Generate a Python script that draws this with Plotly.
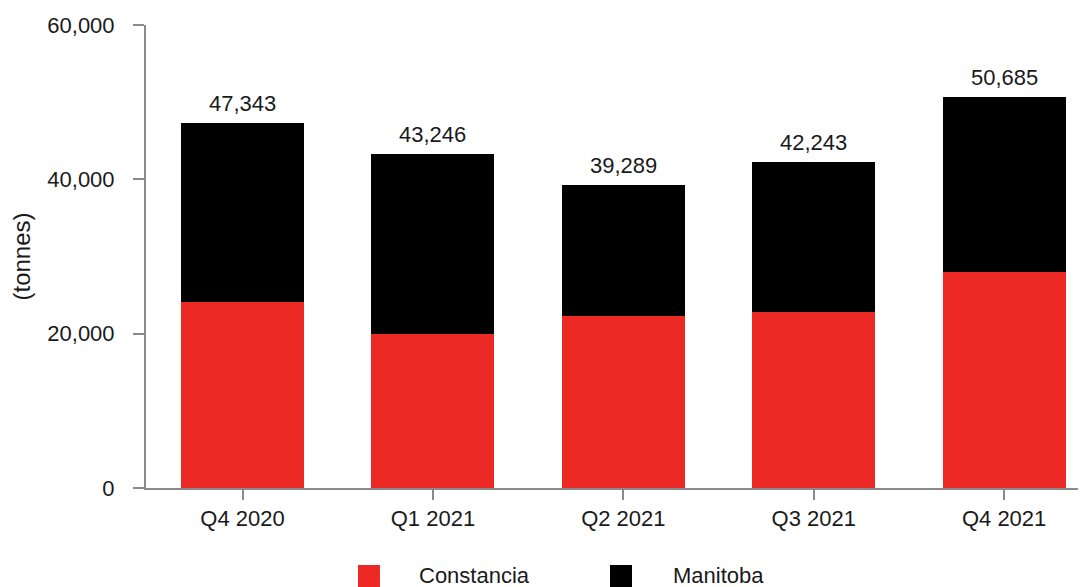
import plotly.graph_objects as go

quarters = ["Q4 2020", "Q1 2021", "Q2 2021", "Q3 2021", "Q4 2021"]
constancia = [24050, 19900, 22250, 22750, 27950]
manitoba = [23293, 23346, 17039, 19493, 22735]
totals = [47343, 43246, 39289, 42243, 50685]
y_ticks = [0, 20000, 40000, 60000]
y_tick_labels = ["0", "20,000", "40,000", "60,000"]

RED = "#ED2926"
BLACK = "#000000"
GREY = "#8a8a8a"
TXT = "#1a1a1a"
FONT = "Liberation Sans, Arial, sans-serif"
FS = 22

fig = go.Figure()
fig.add_trace(go.Bar(x=quarters, y=constancia, name="Constancia",
                     marker=dict(color=RED, line=dict(width=0)), width=0.646,
                     showlegend=False))
fig.add_trace(go.Bar(x=quarters, y=manitoba, name="Manitoba",
                     marker=dict(color=BLACK, line=dict(width=0)), width=0.646,
                     showlegend=False))

for q, t in zip(quarters, totals):
    fig.add_annotation(x=q, y=t, text=f"{t:,}", showarrow=False,
                       yanchor="bottom", yshift=5,
                       font=dict(family=FONT, size=FS, color=TXT))

# manual legend (plot area: x 146..1086 px, y 25..488 px in the window)
legend_items = [("Constancia", RED, 0.2255, 0.2489, 0.2885),
                ("Manitoba", BLACK, 0.4936, 0.5170, 0.5580)]
for name, col, x0, x1, xt in legend_items:
    fig.add_shape(type="rect", xref="paper", yref="paper", x0=x0, x1=x1,
                  y0=-0.1663, y1=-0.2300, fillcolor=col, line=dict(width=0))
    fig.add_annotation(xref="paper", yref="paper", x=xt, y=-0.188,
                       xanchor="left", yanchor="middle", showarrow=False,
                       text=name, font=dict(family=FONT, size=FS, color=TXT))

# the page body has an 8px margin, so the figure is shrunk by 8px each way
fig.update_layout(
    width=1078, height=579,
    margin=dict(l=138, r=0, t=17, b=99),
    plot_bgcolor="white", paper_bgcolor="white",
    barmode="stack",
    font=dict(family=FONT, size=FS, color=TXT),
    xaxis=dict(type="category", range=[-0.507, 4.43],
               showline=True, linecolor=GREY, linewidth=2,
               ticks="outside", ticklen=10, tickwidth=2, tickcolor=GREY,
               ticklabelstandoff=0,
               showgrid=False, zeroline=False,
               tickfont=dict(family=FONT, size=FS, color=TXT)),
    yaxis=dict(range=[0, 60000], tickvals=y_ticks, ticktext=y_tick_labels,
               showline=True, linecolor=GREY, linewidth=2,
               ticks="outside", ticklen=11, tickwidth=2, tickcolor=GREY,
               ticklabelstandoff=14,
               showgrid=False, zeroline=False,
               title=dict(text="(tonnes)", standoff=14,
                          font=dict(family=FONT, size=24, color=TXT)),
               tickfont=dict(family=FONT, size=FS, color=TXT)),
)

fig.write_html("out.html")
